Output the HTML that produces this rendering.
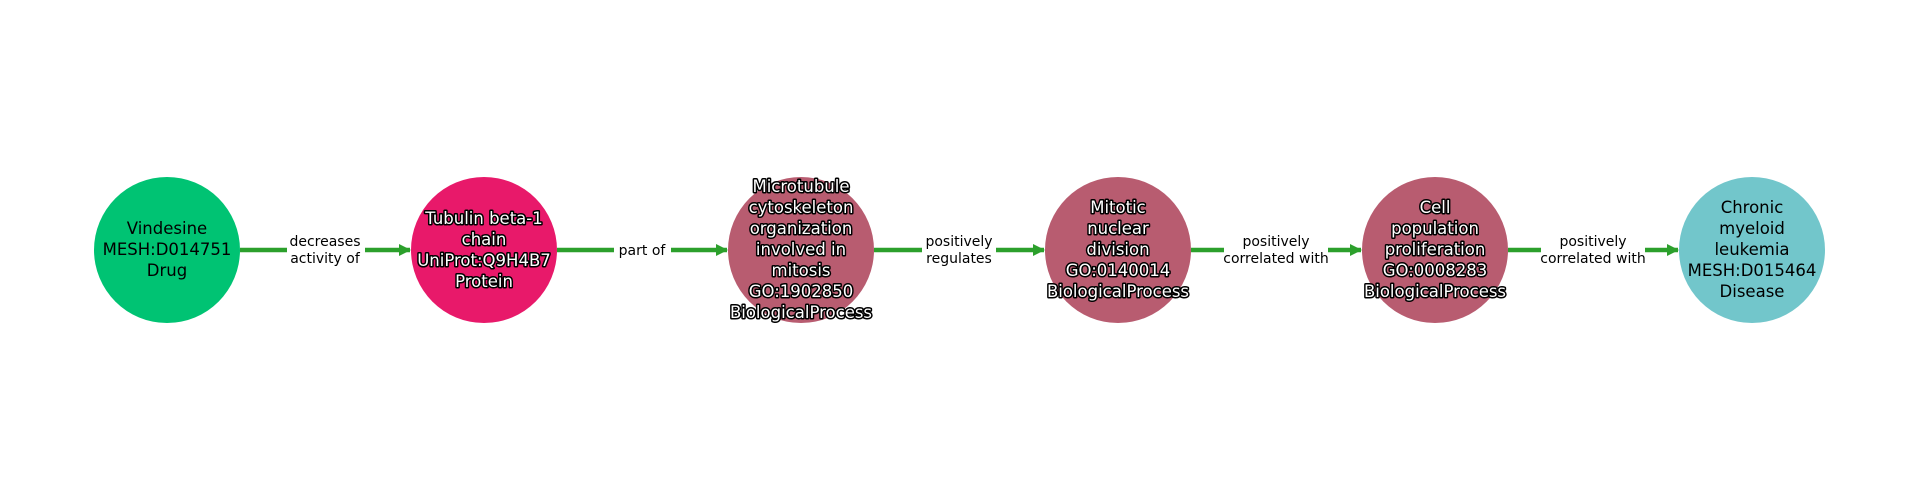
<!DOCTYPE html>
<html><head><meta charset="utf-8"><style>
html,body{margin:0;padding:0;background:#fff;}
svg{display:block;}
text{font-family:"DejaVu Sans","Liberation Sans",sans-serif;}
.n{font-size:16.5px;text-anchor:middle;}
.d{fill:#fff;stroke:#000;stroke-width:3px;paint-order:stroke;stroke-linejoin:round;}
.e{font-size:14px;text-anchor:middle;fill:#000;}
</style></head><body>
<svg width="1920" height="500" viewBox="0 0 1920 500" xmlns="http://www.w3.org/2000/svg">
<defs>
<marker id="a" markerWidth="12" markerHeight="12" refX="11" refY="6" orient="auto" markerUnits="userSpaceOnUse" viewBox="0 0 12 12">
<path d="M0,0 L12,6 L0,12 z" fill="#2ca02c"/>
</marker>
</defs>
<g stroke="#2ca02c" stroke-width="4.5" marker-end="url(#a)">
<line x1="240" y1="250" x2="410" y2="250"/>
<line x1="557" y1="250" x2="727" y2="250"/>
<line x1="874" y1="250" x2="1044" y2="250"/>
<line x1="1191" y1="250" x2="1361" y2="250"/>
<line x1="1508" y1="250" x2="1678" y2="250"/>
</g>
<g fill="#fff">
<rect x="287" y="230" width="78" height="40"/>
<rect x="614" y="238" width="57" height="24"/>
<rect x="922" y="230" width="74" height="40"/>
<rect x="1224" y="230" width="104" height="40"/>
<rect x="1541" y="230" width="104" height="40"/>
</g>
<g class="e">
<text x="325" y="246">decreases</text><text x="325" y="263">activity of</text>
<text x="642" y="255">part of</text>
<text x="959" y="246">positively</text><text x="959" y="263">regulates</text>
<text x="1276" y="246">positively</text><text x="1276" y="263">correlated with</text>
<text x="1593" y="246">positively</text><text x="1593" y="263">correlated with</text>
</g>
<circle cx="167" cy="250" r="73" fill="#00c373"/>
<circle cx="484" cy="250" r="73" fill="#e8196a"/>
<circle cx="801" cy="250" r="73" fill="#b85c70"/>
<circle cx="1118" cy="250" r="73" fill="#b85c70"/>
<circle cx="1435" cy="250" r="73" fill="#b85c70"/>
<circle cx="1752" cy="250" r="73" fill="#72c6cb"/>
<g class="n">
<text x="167" y="234">Vindesine</text><text x="167" y="255">MESH:D014751</text><text x="167" y="276">Drug</text>
<g class="d"><text x="484" y="224">Tubulin beta-1</text><text x="484" y="245">chain</text><text x="484" y="266">UniProt:Q9H4B7</text><text x="484" y="287">Protein</text></g>
<g class="d"><text x="801" y="192">Microtubule</text><text x="801" y="213">cytoskeleton</text><text x="801" y="234">organization</text><text x="801" y="255">involved in</text><text x="801" y="276">mitosis</text><text x="801" y="297">GO:1902850</text><text x="801" y="318">BiologicalProcess</text></g>
<g class="d"><text x="1118" y="213">Mitotic</text><text x="1118" y="234">nuclear</text><text x="1118" y="255">division</text><text x="1118" y="276">GO:0140014</text><text x="1118" y="297">BiologicalProcess</text></g>
<g class="d"><text x="1435" y="213">Cell</text><text x="1435" y="234">population</text><text x="1435" y="255">proliferation</text><text x="1435" y="276">GO:0008283</text><text x="1435" y="297">BiologicalProcess</text></g>
<text x="1752" y="213">Chronic</text><text x="1752" y="234">myeloid</text><text x="1752" y="255">leukemia</text><text x="1752" y="276">MESH:D015464</text><text x="1752" y="297">Disease</text>
</g>
</svg>
</body></html>
